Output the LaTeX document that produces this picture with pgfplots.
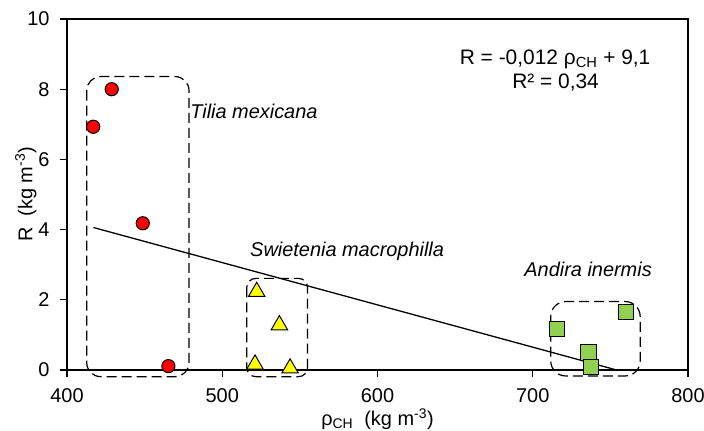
\documentclass[border=0pt]{standalone}
\usepackage{pgfplots}
\pgfplotsset{compat=1.18}
\usepackage{fontspec}
\setmainfont{Liberation Sans}

\definecolor{tiliared}{RGB}{255,0,0}
\definecolor{swietyel}{RGB}{255,255,0}
\definecolor{andgreen}{RGB}{146,208,80}

\begin{document}
\begin{tikzpicture}
\begin{axis}[
  scale only axis, width=621bp, height=351bp,
  xmin=400, xmax=800, ymin=0, ymax=10,
  xtick={400,500,...,800}, ytick={0,2,...,10},
  axis line style={line width=1.6pt}, tick style={line width=1.3pt, black},
  tick align=outside, major tick length=7bp,
  xtick pos=bottom, ytick pos=left,
  /pgf/number format/assume math mode=true,
  tick label style={font=\fontsize{20}{24}\selectfont},
  xticklabel style={yshift=-8bp},
  yticklabel style={xshift=-7bp},
  xlabel={ρ\textsubscript{CH}\ \ (kg m\textsuperscript{-3})},
  ylabel={R\ \ (kg m\textsuperscript{-3})},
  label style={font=\fontsize{20}{24}\selectfont},
  xlabel style={yshift=1bp},
  ylabel style={yshift=-16bp},
  clip=false,
]
% regression line
\addplot[black, line width=1.3pt] coordinates {(417,4.06)(754,0)};
% Tilia mexicana
\addplot[only marks, mark=*, mark size=6.6bp, mark options={fill=tiliared, draw=black, line width=1pt}]
  coordinates {(416.9,6.93)(428.8,8.0)(448.8,4.18)(465.3,0.11)};
% Swietenia macrophilla
\addplot[only marks, mark=triangle*, mark size=9.5bp, mark options={fill=swietyel, draw=black, line width=1pt}]
  coordinates {(522.2,2.23)(536.8,1.28)(521.1,0.16)(543.7,0.05)};
% Andira inermis
\addplot[only marks, mark=square*, mark size=7.6bp, mark options={fill=andgreen, draw=black, line width=1pt}]
  coordinates {(715.5,1.17)(735.9,0.50)(737.4,0.09)(760,1.66)};

\draw[dash pattern=on 10bp off 5bp, line width=1.2pt, rounded corners=14bp]
  (axis cs:412.7,8.36) rectangle (axis cs:478.6,-0.19);
\draw[dash pattern=on 10bp off 5bp, line width=1.2pt, rounded corners=9bp]
  (axis cs:515.8,2.61) rectangle (axis cs:554.9,-0.19);
\draw[dash pattern=on 10bp off 5bp, line width=1.2pt, rounded corners=15bp]
  (axis cs:711.6,1.95) rectangle (axis cs:769.2,-0.17);

\node[anchor=west, font=\fontsize{20}{24}\selectfont\itshape, inner sep=0pt] at (axis cs:479.3,7.36) {Tilia mexicana};
\node[anchor=west, font=\fontsize{20}{24}\selectfont\itshape, inner sep=0pt] at (axis cs:517.9,3.37) {Swietenia macrophilla};
\node[anchor=west, font=\fontsize{20}{24}\selectfont\itshape, inner sep=0pt] at (axis cs:694.5,2.87) {Andira inermis};
\node[font=\fontsize{21}{25}\selectfont, inner sep=0pt] at (axis cs:714.4,8.85) {R = -0,012 ρ\textsubscript{CH} + 9,1};
\node[font=\fontsize{21}{25}\selectfont, inner sep=0pt] at (axis cs:714.7,8.2) {R² = 0,34};
\end{axis}
\pgfresetboundingbox
\path (-67bp,-61bp) rectangle (637bp,370bp);
\end{tikzpicture}
\end{document}
